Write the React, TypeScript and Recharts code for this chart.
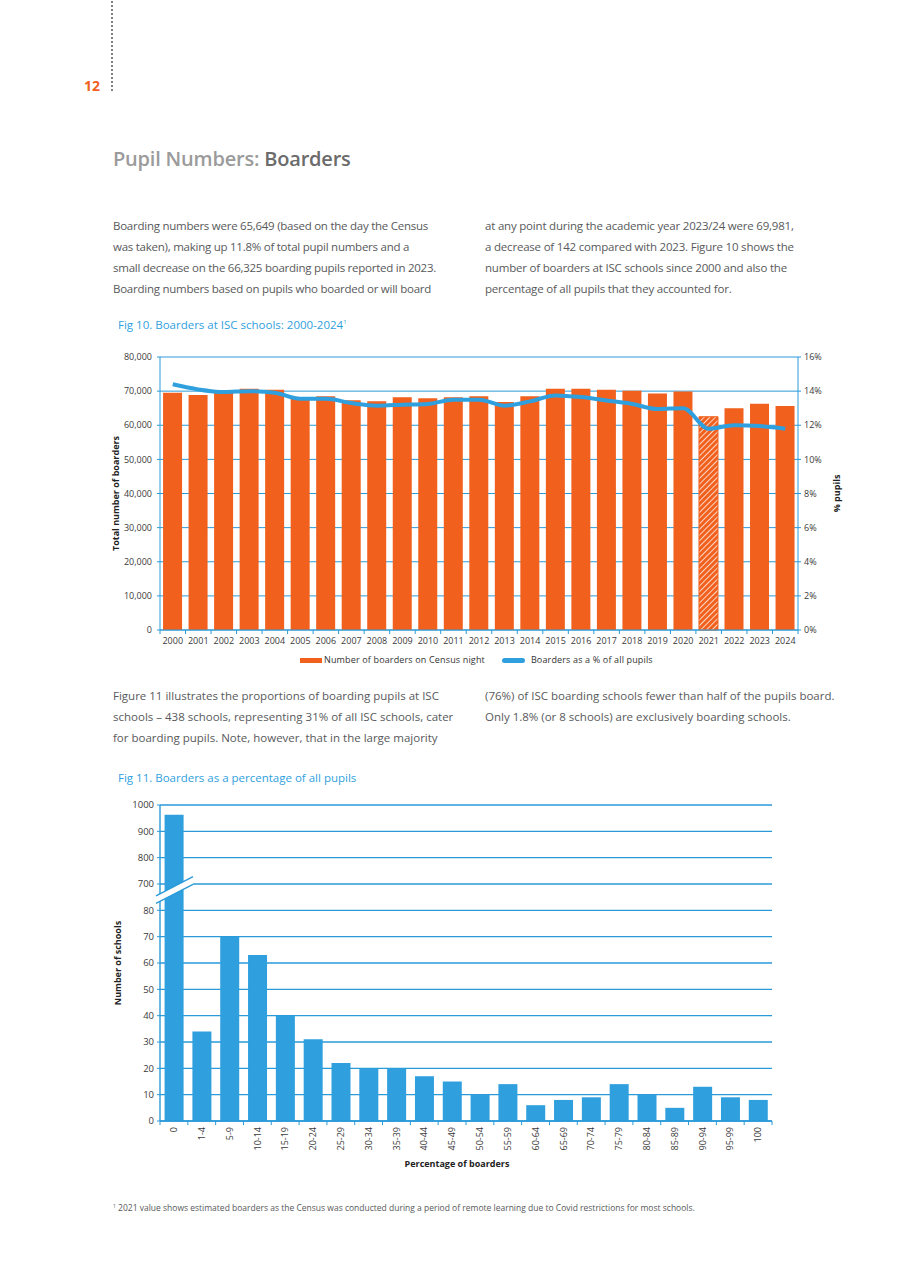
import React from 'react';
import {
  ComposedChart,
  BarChart,
  Bar,
  Line,
  XAxis,
  YAxis,
  CartesianGrid,
  Cell,
  ReferenceArea,
} from 'recharts';

// Fig 10 - boarders per census year
const years = [
  '2000', '2001', '2002', '2003', '2004', '2005', '2006', '2007', '2008', '2009',
  '2010', '2011', '2012', '2013', '2014', '2015', '2016', '2017', '2018', '2019',
  '2020', '2021', '2022', '2023', '2024',
];
const boarders = [
  69500, 68900, 69700, 70700, 70400, 68100, 68500, 67300, 67000, 68200,
  67900, 68200, 68500, 66800, 68500, 70700, 70700, 70400, 70100, 69300,
  69900, 62500, 65000, 66325, 65649,
];
const boarderPct = [
  14.4, 14.1, 13.95, 14.0, 13.9, 13.55, 13.55, 13.3, 13.15, 13.2,
  13.25, 13.5, 13.5, 13.15, 13.4, 13.75, 13.65, 13.45, 13.25, 12.95,
  13.0, 11.8, 12.0, 11.95, 11.8,
];
const estimatedYear = '2021';
const boarderTicks = [0, 10000, 20000, 30000, 40000, 50000, 60000, 70000, 80000];
const pctTicks = [0, 2, 4, 6, 8, 10, 12, 14, 16];

// Fig 11 - schools by percentage of boarders
const bands = [
  '0', '1-4', '5-9', '10-14', '15-19', '20-24', '25-29', '30-34', '35-39', '40-44', '45-49',
  '50-54', '55-59', '60-64', '65-69', '70-74', '75-79', '80-84', '85-89', '90-94', '95-99', '100',
];
const schools = [963, 34, 70, 63, 40, 31, 22, 20, 20, 17, 15, 10, 14, 6, 8, 9, 14, 10, 5, 13, 9, 8];
const schoolTicks = [0, 10, 20, 30, 40, 50, 60, 70, 80, 700, 800, 900, 1000];

const ORANGE = '#F1601D';
const BLUE = '#2F9FDE';
const GRID = '#2A9AD8';
const TEXT = '#58595B';
const AXIS_TEXT = '#3a3a3a';
const FONT = '"Open Sans", "Noto Sans", sans-serif';

// y axis break on fig 11: 0-80 as is, 700-1000 squeezed into one step per 100
const BREAK_LOW = 80;
const BREAK_HIGH = 700;
const toBroken = (v: number) => (v <= BREAK_LOW ? v : BREAK_LOW + 10 + (v - BREAK_HIGH) / 10);
const fromBroken = (v: number) => (v <= BREAK_LOW ? v : BREAK_HIGH + (v - BREAK_LOW - 10) * 10);

const fig10Data = years.map((year, i) => ({ year, boarders: boarders[i], pct: boarderPct[i] }));
const fig11Data = bands.map((band, i) => ({ band, schools: schools[i], plotted: toBroken(schools[i]) }));

// layout
const F10 = { top: 340, width: 920, height: 310, margin: { top: 17, right: 62, bottom: 0, left: 100 }, yw: 60 };
const F10_BAND = (F10.width - F10.margin.left - F10.margin.right - 2 * F10.yw) / years.length;
const F11 = { top: 790, width: 920, height: 390, margin: { top: 15, right: 148, bottom: 9, left: 100 }, yw: 60 };
const F11_BAND = (F11.width - F11.margin.left - F11.margin.right - F11.yw) / bands.length;

const YearTick = (props: any) => {
  const { x, y, payload, index } = props;
  const half = F10_BAND / 2;
  return (
    <g>
      <line x1={x - half} x2={x - half} y1={y} y2={y + 4} stroke={GRID} />
      {index === years.length - 1 && <line x1={x + half} x2={x + half} y1={y} y2={y + 4} stroke={GRID} />}
      <text x={x} y={y + 14} textAnchor="middle" fontSize={9} fill={AXIS_TEXT} fontFamily={FONT}>
        {payload.value}
      </text>
    </g>
  );
};

const BandTick = (props: any) => {
  const { x, y, payload, index } = props;
  const half = F11_BAND / 2;
  return (
    <g>
      <line x1={x - half} x2={x - half} y1={y} y2={y + 4} stroke={GRID} />
      {index === bands.length - 1 && <line x1={x + half} x2={x + half} y1={y} y2={y + 4} stroke={GRID} />}
      <text
        transform={`translate(${x},${y + 6}) rotate(-90)`}
        dy="0.35em"
        textAnchor="end"
        fontSize={9}
        fill={AXIS_TEXT}
        fontFamily={FONT}
      >
        {payload.value}
      </text>
    </g>
  );
};

const BreakMark = (props: any) => {
  const { x, y, height } = props;
  const l = x - 4;
  const r = x + 33;
  const up = [y + height * 0.45, y - height * 0.28];
  const lo = [y + height * 0.74, y + height * 0.01];
  return (
    <g>
      <polygon points={`${l},${up[0]} ${r},${up[1]} ${r},${lo[1]} ${l},${lo[0]}`} fill="#fff" />
      <line x1={l} y1={up[0]} x2={r} y2={up[1]} stroke={GRID} strokeWidth={1.4} />
      <line x1={l} y1={lo[0]} x2={r} y2={lo[1]} stroke={GRID} strokeWidth={1.4} />
    </g>
  );
};

const sideTitle = (text: string, dx: number, angle: number) => (p: any) => {
  const vb = p.viewBox;
  const cx = vb.x + dx;
  const cy = vb.y + vb.height / 2;
  return (
    <text
      x={cx}
      y={cy}
      transform={`rotate(${angle}, ${cx}, ${cy})`}
      textAnchor="middle"
      dominantBaseline="central"
      fontSize={9}
      fontWeight={700}
      fill="#222"
      fontFamily={FONT}
    >
      {text}
    </text>
  );
};

const para1Left = [
  'Boarding numbers were 65,649 (based on the day the Census',
  'was taken), making up 11.8% of total pupil numbers and a',
  'small decrease on the 66,325 boarding pupils reported in 2023.',
  'Boarding numbers based on pupils who boarded or will board',
];
const para1Right = [
  'at any point during the academic year 2023/24 were 69,981,',
  'a decrease of 142 compared with 2023. Figure 10 shows the',
  'number of boarders at ISC schools since 2000 and also the',
  'percentage of all pupils that they accounted for.',
];
const para2Left = [
  'Figure 11 illustrates the proportions of boarding pupils at ISC',
  'schools – 438 schools, representing 31% of all ISC schools, cater',
  'for boarding pupils. Note, however, that in the large majority',
];
const para2Right = [
  '(76%) of ISC boarding schools fewer than half of the pupils board.',
  'Only 1.8% (or 8 schools) are exclusively boarding schools.',
];

const TextLines = ({ lines, left, top, size, spacing }: { lines: string[]; left: number; top: number; size: number; spacing: number }) => (
  <>
    {lines.map((t, i) => (
      <div
        key={i}
        style={{
          position: 'absolute',
          left,
          top: top + i * 21,
          fontSize: size,
          letterSpacing: spacing,
          lineHeight: '16px',
          whiteSpace: 'nowrap',
          color: TEXT,
        }}
      >
        {t}
      </div>
    ))}
  </>
);

const App = () => {
  return (
    <div style={{ position: 'absolute', left: 0, top: 0, width: 920, height: 1284, background: '#fff', fontFamily: FONT, overflow: 'hidden' }}>
      {/* page marker */}
      <div style={{ position: 'absolute', left: 111, top: 1, height: 90, borderLeft: '2px dotted #808080' }} />
      <div style={{ position: 'absolute', left: 84, top: 78, fontSize: 14, fontWeight: 700, color: ORANGE, lineHeight: '16px' }}>12</div>

      <div style={{ position: 'absolute', left: 113, top: 146, fontSize: 20, fontWeight: 600, lineHeight: '26px', letterSpacing: -0.2, whiteSpace: 'nowrap' }}>
        <span style={{ color: '#9b9b9b' }}>Pupil Numbers: </span>
        <span style={{ color: '#6b6b6b' }}>Boarders</span>
      </div>

      <TextLines lines={para1Left} left={113} top={218} size={11.5} spacing={-0.25} />
      <TextLines lines={para1Right} left={485} top={218} size={11.5} spacing={-0.2} />

      <div style={{ position: 'absolute', left: 118, top: 317, fontSize: 11.5, letterSpacing: 0, color: BLUE, lineHeight: '16px', whiteSpace: 'nowrap' }}>
        Fig 10. Boarders at ISC schools: 2000-2024<sup style={{ fontSize: 6, verticalAlign: 'top', lineHeight: '10px' }}>1</sup>
      </div>

      <div style={{ position: 'absolute', left: 0, top: F10.top }}>
        <ComposedChart
          width={F10.width}
          height={F10.height}
          data={fig10Data}
          margin={F10.margin}
          barCategoryGap="12%"
        >
          <defs>
            <pattern id="hatch2021" patternUnits="userSpaceOnUse" width="4" height="4" patternTransform="rotate(45)">
              <rect width="4" height="4" fill={ORANGE} />
              <line x1="0" y1="0" x2="0" y2="4" stroke="#fff" strokeWidth="1.5" />
            </pattern>
          </defs>
          <CartesianGrid vertical={false} stroke={GRID} strokeWidth={1} />
          <XAxis
            dataKey="year"
            interval={0}
            height={20}
            axisLine={{ stroke: GRID }}
            tickLine={false}
            tickSize={0}
            tickMargin={0}
            tick={<YearTick />}
          />
          <YAxis
            width={F10.yw}
            domain={[0, 80000]}
            ticks={boarderTicks}
            tickFormatter={(v: number) => v.toLocaleString('en-GB')}
            axisLine={{ stroke: GRID }}
            tickLine={{ stroke: GRID }}
            tickSize={3}
            tickMargin={5}
            tick={{ fontSize: 9, fill: AXIS_TEXT, fontFamily: FONT }}
            label={sideTitle('Total number of boarders', 15, -90)}
          />
          <YAxis
            yAxisId="right"
            orientation="right"
            width={F10.yw}
            domain={[0, 16]}
            ticks={pctTicks}
            tickFormatter={(v: number) => `${v}%`}
            axisLine={{ stroke: GRID }}
            tickLine={{ stroke: GRID }}
            tickSize={3}
            tickMargin={3}
            tick={{ fontSize: 9, fill: AXIS_TEXT, fontFamily: FONT, textAnchor: 'start' }}
            label={sideTitle('% pupils', 38, -90)}
          />
          <Bar dataKey="boarders" fill={ORANGE} isAnimationActive={false}>
            {fig10Data.map((d) => (
              <Cell
                key={d.year}
                fill={d.year === estimatedYear ? 'url(#hatch2021)' : ORANGE}
                stroke={d.year === estimatedYear ? ORANGE : 'none'}
              />
            ))}
          </Bar>
          <Line
            yAxisId="right"
            dataKey="pct"
            type="monotone"
            stroke={BLUE}
            strokeWidth={4}
            dot={false}
            activeDot={false}
            isAnimationActive={false}
          />
        </ComposedChart>
      </div>

      {/* legend */}
      <div style={{ position: 'absolute', left: 300, top: 654, display: 'flex', alignItems: 'center', fontSize: 9, color: '#333', letterSpacing: 0.15, whiteSpace: 'nowrap', lineHeight: '12px' }}>
        <span style={{ display: 'inline-block', width: 22, height: 5, background: ORANGE, marginRight: 2 }} />
        <span>Number of boarders on Census night</span>
        <span style={{ display: 'inline-block', width: 23, height: 5, borderRadius: 3, background: BLUE, marginLeft: 17, marginRight: 6 }} />
        <span>Boarders as a % of all pupils</span>
      </div>

      <TextLines lines={para2Left} left={113} top={688} size={11.5} spacing={0} />
      <TextLines lines={para2Right} left={485} top={688} size={11.5} spacing={0} />

      <div style={{ position: 'absolute', left: 118, top: 770, fontSize: 11.5, letterSpacing: 0, color: BLUE, lineHeight: '16px', whiteSpace: 'nowrap' }}>
        Fig 11. Boarders as a percentage of all pupils
      </div>

      <div style={{ position: 'absolute', left: 0, top: F11.top }}>
        <BarChart
          width={F11.width}
          height={F11.height}
          data={fig11Data}
          margin={F11.margin}
          barCategoryGap="16.5%"
        >
          <CartesianGrid vertical={false} stroke={GRID} strokeWidth={1.4} />
          <XAxis
            dataKey="band"
            interval={0}
            height={50}
            axisLine={{ stroke: GRID, strokeWidth: 1.4 }}
            tickLine={false}
            tickSize={0}
            tickMargin={0}
            tick={<BandTick />}
            label={(p: any) => (
              <text
                x={p.viewBox.x + p.viewBox.width / 2 - 9}
                y={p.viewBox.y + 46}
                textAnchor="middle"
                fontSize={9}
                fontWeight={700}
                fill="#222"
                fontFamily={FONT}
              >
                Percentage of boarders
              </text>
            )}
          />
          <YAxis
            width={F11.yw}
            domain={[0, toBroken(1000)]}
            ticks={schoolTicks.map(toBroken)}
            tickFormatter={(v: number) => String(fromBroken(v))}
            axisLine={{ stroke: GRID, strokeWidth: 1.4 }}
            tickLine={{ stroke: GRID }}
            tickSize={3}
            tickMargin={3}
            tick={{ fontSize: 9.5, fill: AXIS_TEXT, fontFamily: FONT }}
            label={sideTitle('Number of schools', 17, -90)}
          />
          <Bar dataKey="plotted" fill={BLUE} isAnimationActive={false} />
          <ReferenceArea y1={BREAK_LOW} y2={BREAK_LOW + 10} ifOverflow="visible" shape={<BreakMark />} zIndex={1000} />
        </BarChart>
      </div>

      <div style={{ position: 'absolute', left: 113, top: 1202, fontSize: 8.5, color: TEXT, letterSpacing: 0, whiteSpace: 'nowrap', lineHeight: '12px' }}>
        <sup style={{ fontSize: 5, verticalAlign: 'top', lineHeight: '8px' }}>1</sup> 2021 value shows estimated boarders as the Census was conducted during a period of remote learning due to Covid restrictions for most schools.
      </div>
    </div>
  );
};

export default App;
